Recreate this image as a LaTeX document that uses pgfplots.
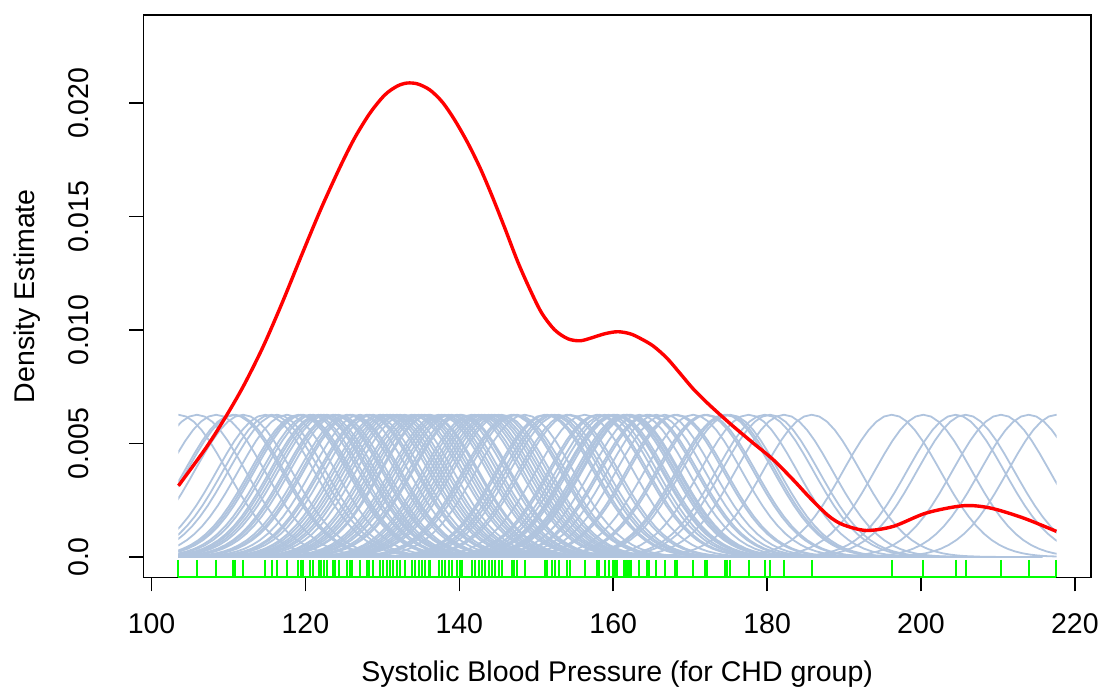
\documentclass[border=0pt]{standalone}
\usepackage{fontspec}
\setmainfont{Liberation Sans}
\usepackage{pgfplots}
\usepackage{pgfplotstable}
\pgfplotsset{compat=1.18}
\definecolor{lsb}{RGB}{176,196,222}
\definecolor{rgreen}{RGB}{0,255,0}

% kernel bump shape (offset from observation, height)
\pgfplotstableread{
dx y
-30 0.0000000
-27 0.0000006
-24 0.0000044
-22 0.0000141
-20 0.0000406
-19 0.0000665
-18 0.000106
-17 0.000164
-16 0.000249
-15 0.000368
-14 0.000531
-13 0.000746
-12 0.001022
-11 0.001366
-10 0.001779
-9 0.002260
-8 0.002800
-7 0.003382
-6 0.003984
-5 0.004576
-4 0.005126
-3 0.005598
-2 0.005962
-1 0.006192
0 0.006270
1 0.006192
2 0.005962
3 0.005598
4 0.005126
5 0.004576
6 0.003984
7 0.003382
8 0.002800
9 0.002260
10 0.001779
11 0.001366
12 0.001022
13 0.000746
14 0.000531
15 0.000368
16 0.000249
17 0.000164
18 0.000106
19 0.0000665
20 0.0000406
22 0.0000141
24 0.0000044
27 0.0000006
30 0.0000000
}\kernel

% observations (rug), y = vertical centre of the rug tick
\pgfplotstableread{
x y
103.5 -0.000513
105.9 -0.000513
108.4 -0.000513
110.6 -0.000513
110.9 -0.000513
111.9 -0.000513
114.8 -0.000513
115.6 -0.000513
116.3 -0.000513
117.6 -0.000513
119.1 -0.000513
119.4 -0.000513
119.7 -0.000513
120.6 -0.000513
121.0 -0.000513
121.7 -0.000513
122.0 -0.000513
122.4 -0.000513
122.8 -0.000513
123.6 -0.000513
123.9 -0.000513
124.3 -0.000513
125.4 -0.000513
125.8 -0.000513
126.1 -0.000513
127.1 -0.000513
128.0 -0.000513
128.3 -0.000513
128.8 -0.000513
129.7 -0.000513
130.1 -0.000513
130.6 -0.000513
131.0 -0.000513
131.4 -0.000513
131.9 -0.000513
132.3 -0.000513
132.9 -0.000513
133.8 -0.000513
134.2 -0.000513
134.7 -0.000513
135.1 -0.000513
135.5 -0.000513
136.0 -0.000513
136.2 -0.000513
137.3 -0.000513
137.7 -0.000513
138.1 -0.000513
138.6 -0.000513
139.0 -0.000513
139.7 -0.000513
140.1 -0.000513
140.3 -0.000513
141.6 -0.000513
142.0 -0.000513
142.5 -0.000513
142.9 -0.000513
143.3 -0.000513
143.8 -0.000513
144.2 -0.000513
144.6 -0.000513
145.1 -0.000513
145.5 -0.000513
146.8 -0.000513
147.1 -0.000513
147.5 -0.000513
148.5 -0.000513
151.1 -0.000513
151.4 -0.000513
152.0 -0.000513
152.4 -0.000513
152.9 -0.000513
154.0 -0.000513
154.4 -0.000513
156.3 -0.000513
157.9 -0.000513
158.2 -0.000513
158.9 -0.000513
159.4 -0.000513
160.0 -0.000513
160.2 -0.000513
160.5 -0.000513
161.4 -0.000513
161.7 -0.000513
161.8 -0.000513
162.1 -0.000513
162.3 -0.000513
163.4 -0.000513
164.4 -0.000513
164.7 -0.000513
165.6 -0.000513
166.7 -0.000513
168.0 -0.000513
168.3 -0.000513
170.4 -0.000513
171.9 -0.000513
172.2 -0.000513
174.5 -0.000513
174.8 -0.000513
175.2 -0.000513
177.6 -0.000513
179.7 -0.000513
180.4 -0.000513
182.2 -0.000513
185.8 -0.000513
196.2 -0.000513
200.3 -0.000513
204.5 -0.000513
205.8 -0.000513
210.4 -0.000513
214.0 -0.000513
217.6 -0.000513
}\rug

\begin{document}
\begin{tikzpicture}[font=\fontsize{14.25}{17}\selectfont]
\useasboundingbox (-71.65pt,-55.35pt) rectangle (478.85pt,288.65pt);
\begin{axis}[
  at={(0pt,0pt)}, anchor=south west,
  scale only axis, width=473.85pt, height=281.15pt,
  xmin=98.93, xmax=222.1, ymin=-0.000894, ymax=0.02389,
  clip=false,
  scaled y ticks=false, scaled x ticks=false,
  axis line style={line width=0.75pt, black},
  tick align=outside, xtick pos=left, ytick pos=left,
  major tick length=7pt,
  every tick/.style={black, line width=0.75pt},
  xtick={100,120,140,160,180,200,220},
  xticklabels={100,120,140,160,180,200,220},
  ytick={0,0.005,0.01,0.015,0.02},
  yticklabels={0.0,0.005,0.010,0.015,0.020},
  xticklabel style={anchor=base, inner sep=0pt, yshift=-21.35pt, font=\fontsize{14.25}{17}\selectfont},
  yticklabel style={xshift=-20.15pt, rotate=90, anchor=base, inner sep=0pt, font=\fontsize{14.25}{17}\selectfont},
  xlabel={Systolic Blood Pressure (for CHD group)},
  ylabel={Density Estimate},
  xlabel style={at={(axis description cs:0.5,-0.1862)}, anchor=base, inner sep=0pt, font=\fontsize{14.25}{17}\selectfont},
  ylabel style={at={(axis description cs:-0.1153,0.5)}, rotate=0, anchor=base, inner sep=0pt, font=\fontsize{14.25}{17}\selectfont},
]
\begin{scope}
\clip (axis cs:103.5,-0.0009) rectangle (axis cs:217.62,0.01);
\pgfplotsinvokeforeach{103.5,105.9,108.4,110.6,110.9,111.9,114.8,115.6,116.3,117.6,119.1,119.4,119.7,120.6,121.0,121.7,122.0,122.4,122.8,123.6,123.9,124.3,125.4,125.8,126.1,127.1,128.0,128.3,128.8,129.7,130.1,130.6,131.0,131.4,131.9,132.3,132.9,133.8,134.2,134.7,135.1,135.5,136.0,136.2,137.3,137.7,138.1,138.6,139.0,139.7,140.1,140.3,141.6,142.0,142.5,142.9,143.3,143.8,144.2,144.6,145.1,145.5,146.8,147.1,147.5,148.5,151.1,151.4,152.0,152.4,152.9,154.0,154.4,156.3,157.9,158.2,158.9,159.4,160.0,160.2,160.5,161.4,161.7,161.8,162.1,162.3,163.4,164.4,164.7,165.6,166.7,168.0,168.3,170.4,171.9,172.2,174.5,174.8,175.2,177.6,179.7,180.4,182.2,185.8,196.2,200.3,204.5,205.8,210.4,214.0,217.6}{
  \addplot[lsb, line width=0.9pt, no markers] table[x expr=\thisrow{dx}+#1, y=y] {\kernel};
}
\end{scope}
\addplot[red, line width=1.7pt, smooth, no markers] coordinates {
(103.5,0.00314) (107.2,0.00487) (109.8,0.00627) (112.0,0.00757) (114.5,0.00927)
(117.0,0.01122) (119.5,0.01330) (122.0,0.01533) (124.5,0.01719) (126.4,0.01847)
(128.4,0.01957) (130.3,0.02036) (131.9,0.02075)
(133.2,0.02089) (134.6,0.02085) (136.2,0.02058) (137.8,0.02005) (139.4,0.01926)
(141.1,0.01825) (142.7,0.01715) (144.2,0.01596) (145.9,0.01451) (147.6,0.01301)
(149.2,0.01178) (150.7,0.01076) (152.4,0.01001) (154.1,0.00962) (155.7,0.00953)
(157.2,0.00966) (158.9,0.00984) (160.6,0.00993) (162.2,0.00984) (163.5,0.00964)
(165.2,0.00930) (167.0,0.00876) (168.7,0.00809) (170.4,0.00741) (172.2,0.00680)
(173.9,0.00627) (175.6,0.00576) (178.2,0.00502) (180.8,0.00429) (183.4,0.00340)
(185.6,0.00260) (188.0,0.00181) (189.9,0.00142)
(192.9,0.00117) (196.4,0.00135) (200.7,0.00194) (205.5,0.00226) (209.0,0.00216)
(213.3,0.00172) (217.6,0.00113)
};
\addplot[rgreen, line width=1pt, no markers] coordinates {(103.5,-0.000894) (217.6,-0.000894)};
\addplot[only marks, mark=|, mark size=4.33pt, mark options={rgreen, line width=1pt}] table[x=x, y=y] {\rug};
\end{axis}
\end{tikzpicture}
\end{document}
